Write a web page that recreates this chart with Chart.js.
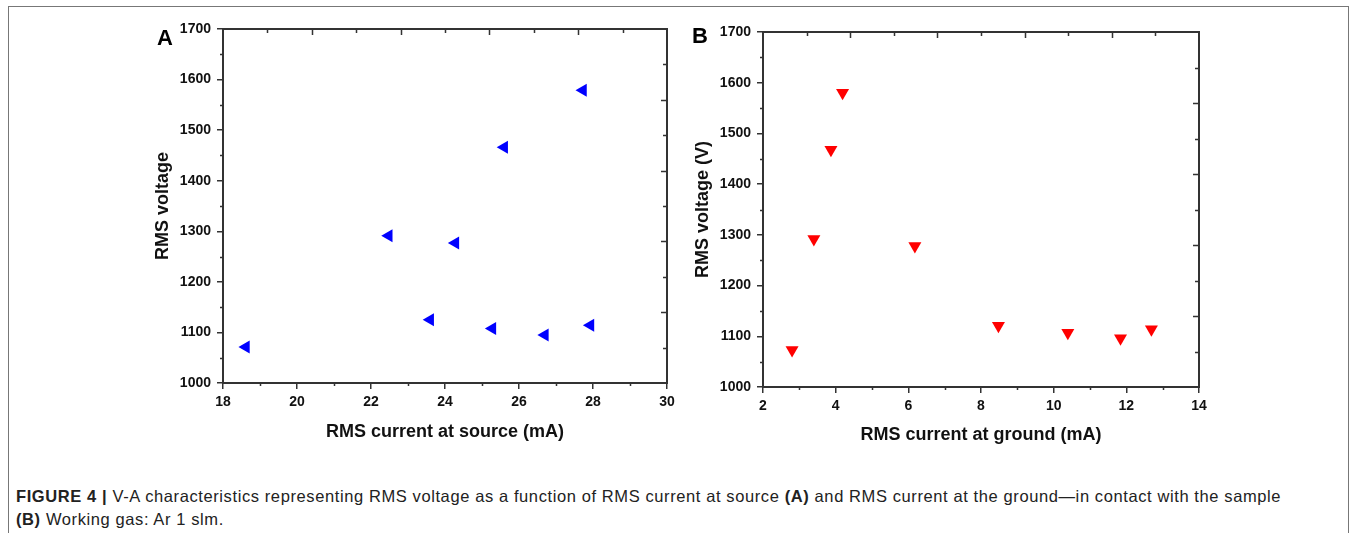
<!DOCTYPE html>
<html>
<head>
<meta charset="utf-8">
<script src="https://cdn.jsdelivr.net/npm/chart.js@4.4.1/dist/chart.umd.min.js"></script>
<style>
  body { margin: 0; background: #fff; width: 1354px; height: 533px; overflow: hidden; position: relative;
         font-family: "Liberation Sans", Arial, sans-serif; }
  #frame { position: absolute; left: 8px; top: 6px; width: 1341px; height: 600px; box-sizing: border-box;
           border: 1px solid #777; }
  canvas { position: absolute; }
  #cvA { left: 130px; top: 10px; }
  #cvB { left: 670px; top: 13px; }
  .panel { position: absolute; font-weight: bold; font-size: 22px; line-height: 22px; color: #000; }
  #caption { position: absolute; left: 16px; top: 485px; font-size: 16.5px; letter-spacing: 0.6px;
             line-height: 23px; color: #222; white-space: nowrap; }
</style>
</head>
<body>
<div id="frame"></div>
<canvas id="cvA" width="560" height="445"></canvas>
<canvas id="cvB" width="560" height="445"></canvas>
<div class="panel" style="left:157px; top:27px;">A</div>
<div class="panel" style="left:692px; top:25px;">B</div>
<div id="caption"><b>FIGURE 4 |</b> V-A characteristics representing RMS voltage as a function of RMS current at source <b>(A)</b> and RMS current at the ground—in contact with the sample<br><b>(B)</b> Working gas: Ar 1 slm.</div>
<script>
// panel A: voltage vs current at source
const srcCurrent = [18.62, 22.48, 23.6, 24.28, 25.28, 25.6, 26.7, 27.73, 27.93];
const srcVoltage = [1071, 1291, 1125, 1277, 1108, 1466, 1095, 1579, 1114];

// panel B: voltage vs current at ground
const gndCurrent = [2.8, 3.4, 3.87, 4.19, 6.18, 8.48, 10.39, 11.84, 12.69];
const gndVoltage = [1073, 1292, 1468, 1580, 1278, 1121, 1107, 1096, 1114];

const axisColor = '#333';
const fontFam = '"Liberation Sans", Arial, sans-serif';

// box around plot area, minor ticks outside, unlinked ticks on top/right pointing in
const frameTicks = {
    id: 'frameTicks',
    afterDraw(chart) {
        const { ctx, chartArea: a, scales } = chart;
        ctx.save();
        ctx.strokeStyle = axisColor;
        ctx.lineWidth = 2;
        ctx.strokeRect(a.left, a.top, a.right - a.left, a.bottom - a.top);

        ctx.lineWidth = 1.5;
        ctx.beginPath();
        const x = scales.x, y = scales.y;
        for (let v = x.min + 1; v < x.max; v += 2) {
            const px = Math.round(x.getPixelForValue(v)) + 0.5;
            ctx.moveTo(px, a.bottom); ctx.lineTo(px, a.bottom + 3);
        }
        for (let v = y.min + 50; v < y.max; v += 100) {
            const py = Math.round(y.getPixelForValue(v)) + 0.5;
            ctx.moveTo(a.left, py); ctx.lineTo(a.left - 3, py);
        }
        const x2 = scales.x2, y2 = scales.y2;
        for (let k = 1; k < 10; k++) {
            const len = k % 2 === 0 ? 6 : 4;
            const px = Math.round(x2.getPixelForValue(k)) + 0.5;
            ctx.moveTo(px, a.top); ctx.lineTo(px, a.top + len);
            const py = Math.round(y2.getPixelForValue(k)) + 0.5;
            ctx.moveTo(a.right, py); ctx.lineTo(a.right - len, py);
        }
        ctx.stroke();
        ctx.restore();
    }
};

function makeChart(id, xs, ys, opts) {
    const pts = xs.map((v, i) => ({ x: v, y: ys[i] }));
    return new Chart(document.getElementById(id), {
        type: 'scatter',
        data: {
            datasets: [{
                data: pts,
                pointStyle: 'triangle',
                rotation: opts.rotation,
                pointRadius: 7.5,
                pointBorderWidth: 0,
                backgroundColor: opts.color,
                borderColor: opts.color
            }]
        },
        options: {
            responsive: false,
            animation: false,
            devicePixelRatio: 1,
            layout: { padding: { top: 19, right: opts.padRight, left: 0, bottom: 0 } },
            plugins: { legend: { display: false }, tooltip: { enabled: false } },
            scales: {
                x: {
                    type: 'linear', position: 'bottom',
                    min: opts.xMin, max: opts.xMax,
                    afterFit: s => { s.height = opts.xHeight; },
                    border: { display: false },
                    grid: { drawOnChartArea: false, drawTicks: true, tickLength: 6, color: axisColor, lineWidth: 1.5 },
                    ticks: { stepSize: 2, padding: 5, color: '#111', font: { family: fontFam, size: 14, weight: 'bold' },
                             callback: v => String(v) },
                    title: { display: true, text: opts.xTitle, color: '#111', padding: { top: 0, bottom: 12 },
                             font: { family: fontFam, size: 18, weight: 'bold' } }
                },
                y: {
                    type: 'linear', position: 'left',
                    min: 1000, max: 1700,
                    afterFit: s => { s.width = 93; },
                    border: { display: false },
                    grid: { drawOnChartArea: false, drawTicks: true, tickLength: 6, color: axisColor, lineWidth: 1.5 },
                    ticks: { stepSize: 100, padding: 6, color: '#111', font: { family: fontFam, size: 14, weight: 'bold' },
                             callback: v => String(v) },
                    title: { display: true, text: opts.yTitle, color: '#111', padding: { top: 22, bottom: 0 },
                             font: { family: fontFam, size: 18, weight: 'bold' } }
                },
                x2: { type: 'linear', position: 'top', display: false, min: 0, max: 10 },
                y2: { type: 'linear', position: 'right', display: false, min: 0, max: 10, reverse: true }
            }
        },
        plugins: [frameTicks]
    });
}

makeChart('cvA', srcCurrent, srcVoltage, {
    color: '#0000ff', rotation: -90, xMin: 18, xMax: 30, padRight: 23, xHeight: 72,
    xTitle: 'RMS current at source (mA)', yTitle: 'RMS voltage'
});
makeChart('cvB', gndCurrent, gndVoltage, {
    color: '#ff0000', rotation: 180, xMin: 2, xMax: 14, padRight: 31, xHeight: 71,
    xTitle: 'RMS current at ground (mA)', yTitle: 'RMS voltage (V)'
});
</script>
</body>
</html>
